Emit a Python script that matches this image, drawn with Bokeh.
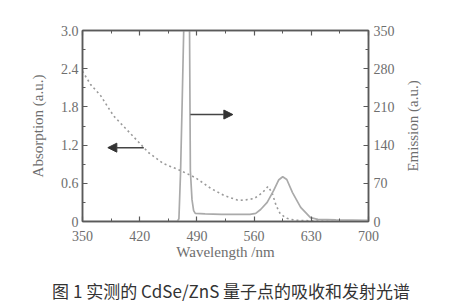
from bokeh.plotting import figure
from bokeh.layouts import row, column
from bokeh.models import (Range1d, LinearAxis, SingleIntervalTicker, Arrow,
                          NormalHead, CustomJSTickFormatter, FixedTicker)
from bokeh.core.properties import value
from bokeh.embed import file_html
from bokeh.resources import INLINE

# ---- data ----
abs_wl = [350, 360, 372, 388, 411, 431, 449, 470, 488, 507, 523, 541, 550, 560,
          570, 577, 582, 587, 592, 600, 610, 630, 660, 700]
abs_val = [2.36, 2.15, 1.98, 1.66, 1.35, 1.08, 0.91, 0.80, 0.69, 0.52, 0.41, 0.33,
           0.34, 0.36, 0.45, 0.55, 0.45, 0.25, 0.12, 0.05, 0.02, 0.01, 0.0, 0.0]

em_wl = [350, 400, 450, 466, 468, 470, 472, 474, 477, 481, 482, 484, 486, 488,
         500, 520, 540, 555, 562, 568, 576, 584, 590, 595, 600, 607, 617, 629,
         638, 660, 700]
em_val = [0, 0, 0, 0, 5, 90, 220, 360, 700, 350, 93, 40, 20, 15,
          14, 13, 13, 13, 15, 22, 35, 57, 76, 82, 77, 53, 26, 7,
          4, 3, 2]

x_ticks_interval = 70
abs_ticks = [0, 0.6, 1.2, 1.8, 2.4, 3.0]
abs_minor = [0.3, 0.9, 1.5, 2.1, 2.7]
em_tick_interval = 70

x_label = "Wavelength /nm"
y_label = "Absorption (a.u.)"
y2_label = "Emission (a.u.)"
caption = "图 1  实测的 CdSe/ZnS 量子点的吸收和发射光谱"

# arrows (data coordinates: wavelength, absorption scale)
arrow_left = dict(x_start=425, x_end=381, y=1.16)
arrow_right = dict(x_start=482, x_end=534, y=1.68)

AX = "#5a5a5a"
TXT = "#6e6e6e"
SERIF = "Liberation Serif"

MAIN_H = 273
p = figure(width=400, height=MAIN_H, output_backend="svg", toolbar_location=None,
           x_range=Range1d(350, 700), y_range=Range1d(0, 3.0),
           min_border_left=82, min_border_right=32, min_border_top=30,
           min_border_bottom=52)
p.grid.visible = False
p.outline_line_color = AX
p.outline_line_width = 1.5
p.background_fill_color = "white"
p.border_fill_color = "white"


def style(ax, labels=True):
    ax.axis_line_color = AX
    ax.axis_line_width = 1.5
    ax.major_tick_in = 5
    ax.major_tick_out = 0
    ax.minor_tick_in = 3
    ax.minor_tick_out = 0
    ax.major_tick_line_color = AX
    ax.minor_tick_line_color = AX
    ax.major_tick_line_width = 1.2
    ax.minor_tick_line_width = 1
    ax.major_label_text_font = SERIF
    ax.major_label_text_font_size = "14px"
    ax.major_label_text_color = TXT if labels else None
    ax.axis_label_text_font = SERIF
    ax.axis_label_text_font_size = "15px"
    ax.axis_label_text_font_style = "normal"
    ax.axis_label_text_color = TXT


# bottom x axis
xa = p.xaxis[0]
xa.ticker = SingleIntervalTicker(interval=x_ticks_interval, num_minor_ticks=2)
xa.axis_label = x_label
style(xa)
xa.major_label_standoff = 9
xa.axis_label_standoff = 0

# left y axis
ya = p.yaxis[0]
ya.ticker = FixedTicker(ticks=abs_ticks, minor_ticks=abs_minor)
ya.formatter = CustomJSTickFormatter(code="return tick == 0 ? '0' : tick.toFixed(1);")
ya.axis_label = y_label
style(ya)
ya.major_label_standoff = 4
ya.axis_label_standoff = 12

# top axis (ticks only)
ta = LinearAxis(ticker=SingleIntervalTicker(interval=x_ticks_interval, num_minor_ticks=2))
style(ta, labels=False)
p.add_layout(ta, "above")

# right axis for emission
p.extra_y_ranges = {"em": Range1d(0, 350)}
ra = LinearAxis(y_range_name="em",
                ticker=SingleIntervalTicker(interval=em_tick_interval, num_minor_ticks=2))
style(ra)
ra.major_label_standoff = 5
p.add_layout(ra, "right")

# curves
p.line(abs_wl, abs_val, line_color="#9a9a9a", line_width=1.6, line_dash="2 3")
p.line(em_wl, em_val, y_range_name="em", line_color="#aaaaaa", line_width=1.7)

# arrows
for a in (arrow_left, arrow_right):
    p.add_layout(Arrow(end=NormalHead(size=9, fill_color="#333333", line_color="#333333"),
                       x_start=a["x_start"], y_start=a["y"], x_end=a["x_end"], y_end=a["y"],
                       line_color="#444444", line_width=1.5))

# side strip carrying the emission axis title (reads bottom-to-top)
s = figure(width=54, height=MAIN_H, output_backend="svg", toolbar_location=None,
           x_range=Range1d(0, 1), y_range=Range1d(0, 350), x_axis_location=None,
           min_border_left=24, min_border_right=0, min_border_top=30,
           min_border_bottom=52)
s.grid.visible = False
s.outline_line_color = None
s.border_fill_color = "white"
sa = s.yaxis[0]
sa.ticker = FixedTicker(ticks=[])
sa.axis_line_color = None
sa.major_tick_line_color = None
sa.minor_tick_line_color = None
sa.major_label_text_color = None
sa.axis_label = y2_label
sa.axis_label_text_font = SERIF
sa.axis_label_text_font_size = "15px"
sa.axis_label_text_font_style = "normal"
sa.axis_label_text_color = TXT
sa.axis_label_standoff = 4

# caption strip
c = figure(width=454, height=303 - MAIN_H, output_backend="svg", toolbar_location=None,
           x_range=Range1d(0, 454), y_range=Range1d(0, 303 - MAIN_H),
           x_axis_location=None, y_axis_location=None, min_border=0)
c.grid.visible = False
c.outline_line_color = None
c.text(x=[232.5], y=[13], text=[caption], text_align="center", text_baseline="middle",
       text_font=value("Noto Sans CJK SC"), text_font_size="17px", text_color="#333333")

layout = column(row(p, s), c)
open("out.html", "w").write(file_html(layout, INLINE))
